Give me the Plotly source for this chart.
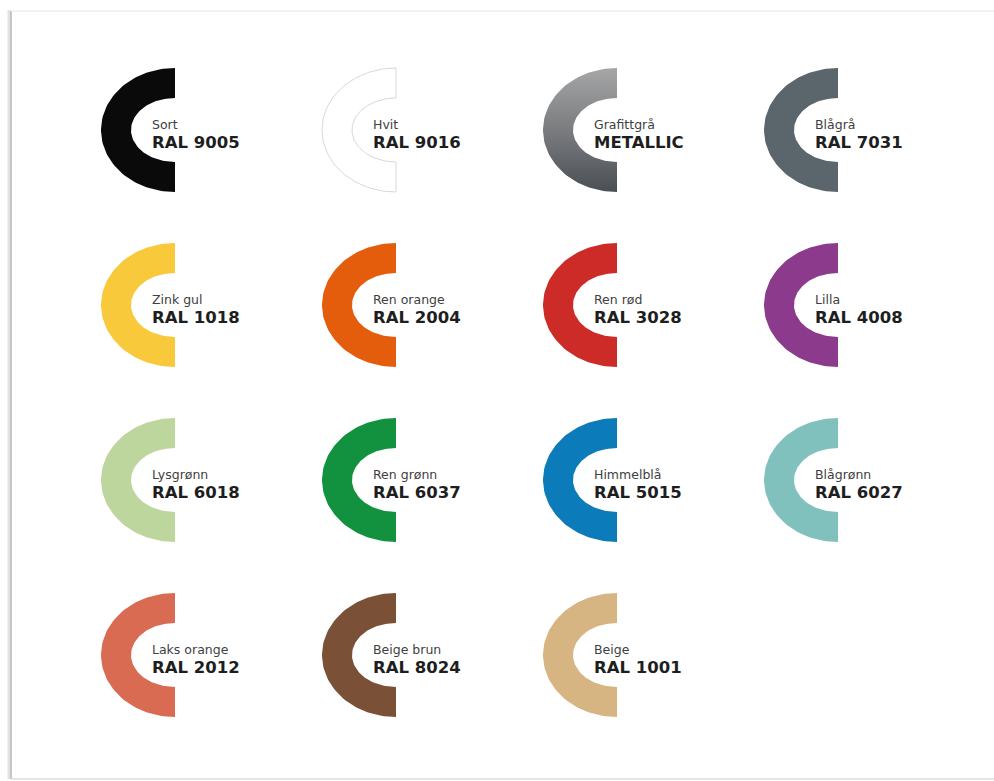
import numpy as np
import plotly.graph_objects as go

# ---- data ----
names = ["Sort", "Hvit", "Grafittgrå", "Blågrå",
         "Zink gul", "Ren orange", "Ren rød", "Lilla",
         "Lysgrønn", "Ren grønn", "Himmelblå", "Blågrønn",
         "Laks orange", "Beige brun", "Beige"]
codes = ["RAL 9005", "RAL 9016", "METALLIC", "RAL 7031",
         "RAL 1018", "RAL 2004", "RAL 3028", "RAL 4008",
         "RAL 6018", "RAL 6037", "RAL 5015", "RAL 6027",
         "RAL 2012", "RAL 8024", "RAL 1001"]
colors = ["#0a0a0a", "#ffffff", "metallic", "#5b656c",
          "#f8c93a", "#e35d0d", "#cd2b27", "#8b3a8c",
          "#bcd69e", "#12923f", "#0b7cb9", "#80c1bd",
          "#d96b52", "#7a5036", "#d7b583"]

# ---- layout constants (pixels) ----
W, H = 994, 781
col_x = [175, 396, 617, 838]
row_y = [130, 305, 480, 655]
RX_OUT, RY_OUT = 74, 62
RX_IN, RY_IN = 44, 32


def c_shape(cx, cy):
    t_out = np.linspace(-np.pi / 2, -3 * np.pi / 2, 80)
    t_in = t_out[::-1]
    xo = cx + RX_OUT * np.cos(t_out)
    yo = cy + RY_OUT * np.sin(t_out)
    xi = cx + RX_IN * np.cos(t_in)
    yi = cy + RY_IN * np.sin(t_in)
    xs = np.concatenate([xo, xi, xo[:1]])
    ys = np.concatenate([yo, yi, yo[:1]])
    return xs, ys


fig = go.Figure()
annotations = []
for i, (nm, cd, col) in enumerate(zip(names, codes, colors)):
    cx = col_x[i % 4]
    cy = row_y[i // 4]
    xs, ys = c_shape(cx, cy)
    kw = dict(x=xs, y=ys, mode="lines", fill="toself", hoverinfo="skip",
              showlegend=False)
    if col == "metallic":
        kw["line"] = dict(width=0, color="#808080")
        kw["fillgradient"] = dict(type="vertical",
                                  colorscale=[[0, "#4a4f55"], [0.5, "#7a7c7f"], [1, "#a6a6a6"]])
    elif col == "#ffffff":
        kw["line"] = dict(width=1, color="#d8d8d8")
        kw["fillcolor"] = "#ffffff"
    else:
        kw["line"] = dict(width=0, color=col)
        kw["fillcolor"] = col
    fig.add_trace(go.Scatter(**kw))
    label = ("<span style='font-size:12.5px'>" + nm + "</span>"
             + "<br><span style='font-size:16.5px;color:#1e1e1e'><b>"
             + cd + "</b></span>")
    annotations.append(dict(x=cx - 25, y=cy + 4, text=label, showarrow=False,
                            xref="x", yref="y", xanchor="left", yanchor="middle",
                            align="left",
                            font=dict(family="DejaVu Sans", size=14.6, color="#404040")))

# card frame
shapes = [
    dict(type="line", xref="x", yref="y", x0=9, x1=9, y0=10, y1=779,
         line=dict(color="#e2e2e2", width=3)),
    dict(type="line", xref="x", yref="y", x0=11, x1=11, y0=11, y1=779,
         line=dict(color="#b4b4b4", width=1.5)),
    dict(type="line", xref="x", yref="y", x0=11, x1=W, y0=11, y1=11,
         line=dict(color="#ececec", width=1.5)),
    dict(type="line", xref="x", yref="y", x0=11, x1=W, y0=779, y1=779,
         line=dict(color="#dcdcdc", width=1.5)),
]

fig.update_layout(
    width=W, height=H,
    margin=dict(l=0, r=0, t=0, b=0),
    paper_bgcolor="white", plot_bgcolor="white",
    xaxis=dict(range=[0, W], visible=False, fixedrange=True),
    yaxis=dict(range=[H, 0], visible=False, fixedrange=True),
    annotations=annotations,
    shapes=shapes,
)

fig.write_html("out.html", config={"displayModeBar": False},
               post_script="document.body.style.margin='0';document.body.style.overflow='hidden';")
